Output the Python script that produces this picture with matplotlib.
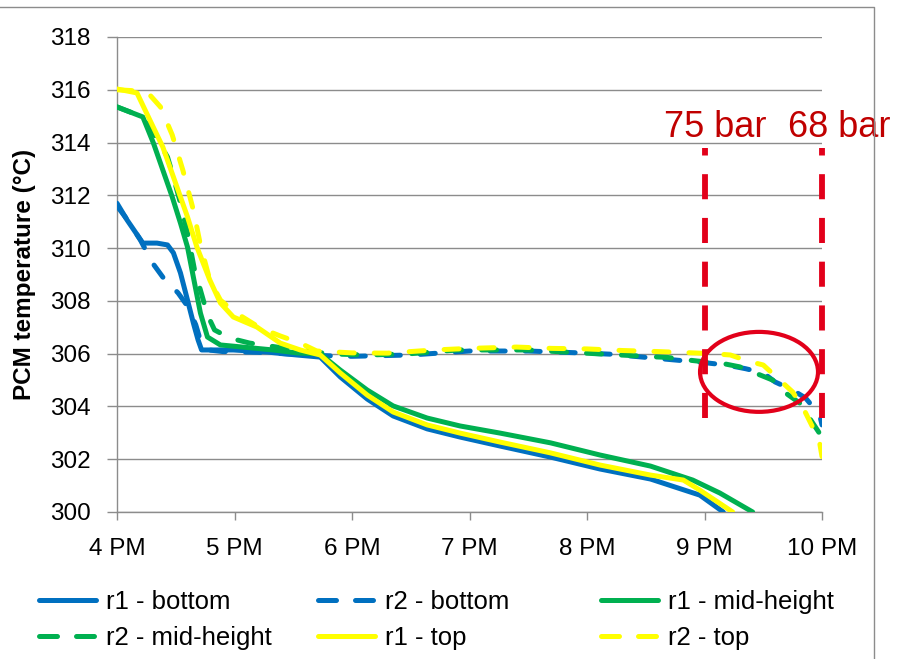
import matplotlib.pyplot as plt
import matplotlib.lines as mlines
from matplotlib.patches import Ellipse

plt.rcParams['font.family'] = ['Liberation Sans', 'DejaVu Sans']

# time in hours (16 = 4 PM), PCM temperature in degC
r1_bottom_h = [16.0, 16.085, 16.22, 16.34, 16.43, 16.48, 16.54, 16.6, 16.65, 16.69, 16.72, 16.79,
               16.99, 17.28, 17.53, 17.73, 17.9, 18.13, 18.35, 18.64, 18.92, 19.26, 19.69, 20.11,
               20.54, 20.96, 21.16]
r1_bottom_T = [311.7, 311.07, 310.19, 310.19, 310.12, 309.82, 309.06, 308.03, 307.16, 306.52, 306.14,
               306.14, 306.14, 306.06, 305.95, 305.87, 305.12, 304.28, 303.64, 303.15, 302.84, 302.5,
               302.08, 301.63, 301.25, 300.64, 300.0]

r2_bottom_h = [16.0, 16.1, 16.2, 16.3, 16.39, 16.52, 16.6, 16.67, 16.71, 16.76, 16.9, 17.2, 17.5,
               17.8, 18.0, 18.5, 19.0, 19.5, 20.0, 20.2, 20.5, 20.8, 21.0, 21.2, 21.35, 21.5, 21.6,
               21.75, 21.86, 21.98, 22.0]
r2_bottom_T = [311.6, 311.0, 310.3, 309.45, 308.9, 308.3, 307.8, 307.1, 306.5, 306.15, 306.08, 306.05,
               305.98, 305.92, 305.9, 305.95, 306.1, 306.1, 306.02, 305.98, 305.86, 305.74, 305.66,
               305.56, 305.43, 305.27, 304.93, 304.62, 304.32, 303.68, 303.3]

r1_mid_h = [16.0, 16.22, 16.31, 16.39, 16.47, 16.54, 16.6, 16.65, 16.71, 16.77, 16.88, 17.07, 17.33,
            17.53, 17.73, 17.9, 18.13, 18.35, 18.64, 18.92, 19.26, 19.69, 20.11, 20.54, 20.9, 21.13,
            21.41]
r1_mid_T = [315.35, 314.97, 313.98, 312.96, 311.94, 310.95, 310.04, 308.9, 307.54, 306.63, 306.33,
            306.25, 306.14, 306.03, 305.99, 305.38, 304.62, 304.02, 303.56, 303.26, 302.99, 302.62,
            302.16, 301.74, 301.21, 300.72, 300.0]

r2_mid_h = [16.0, 16.22, 16.32, 16.43, 16.47, 16.54, 16.6, 16.66, 16.71, 16.77, 16.83, 16.96, 17.13,
            17.36, 17.56, 17.81, 18.15, 18.5, 18.9, 19.5, 19.9, 20.2, 20.37, 20.52, 20.68, 20.82,
            20.94, 21.13, 21.3, 21.43, 21.58, 21.69, 21.81, 21.92, 22.0]
r2_mid_T = [315.35, 314.97, 314.29, 313.45, 312.85, 311.71, 310.57, 309.17, 308.41, 307.47, 306.9,
            306.59, 306.4, 306.25, 306.14, 305.99, 305.95, 306.0, 306.14, 306.14, 306.04, 305.97,
            305.93, 305.89, 305.86, 305.78, 305.72, 305.65, 305.5, 305.27, 305.0, 304.51, 304.13,
            303.38, 302.84]

r1_top_h = [16.0, 16.17, 16.28, 16.39, 16.51, 16.6, 16.68, 16.79, 16.88, 16.99, 17.19, 17.39, 17.56,
            17.73, 17.9, 18.13, 18.35, 18.64, 18.92, 19.26, 19.69, 20.11, 20.54, 20.82, 20.96, 21.24]
r1_top_T = [316.03, 315.88, 314.85, 313.83, 312.32, 311.18, 310.04, 308.79, 307.92, 307.39, 307.01,
            306.4, 306.14, 305.95, 305.27, 304.43, 303.79, 303.3, 302.99, 302.65, 302.24, 301.78,
            301.4, 301.21, 300.83, 300.0]

r2_top_h = [16.0, 16.2, 16.28, 16.37, 16.47, 16.56, 16.65, 16.71, 16.79, 16.88, 17.0, 17.22, 17.39,
            17.56, 17.7, 18.0, 18.3, 18.7, 19.0, 19.4, 19.7, 20.0, 20.3, 20.6, 20.9, 21.07, 21.22,
            21.37, 21.5, 21.64, 21.75, 21.84, 21.92, 21.98, 22.0]
r2_top_T = [316.0, 315.95, 315.8, 315.35, 314.29, 312.96, 311.44, 310.12, 308.79, 308.03, 307.58,
            306.97, 306.67, 306.4, 306.1, 306.03, 306.02, 306.14, 306.2, 306.25, 306.2, 306.18,
            306.12, 306.08, 306.03, 306.0, 305.95, 305.72, 305.57, 305.0, 304.55, 303.94, 303.22,
            302.62, 302.1]

# pressure change markers
marker_h = [21.0, 22.0]
marker_labels = ['75 bar', '68 bar']
marker_span = (303.55, 313.8)
label_h = [21.09, 22.15]
label_T = 314.2

hour_ticks = [16, 17, 18, 19, 20, 21, 22]
hour_labels = ['4 PM', '5 PM', '6 PM', '7 PM', '8 PM', '9 PM', '10 PM']
temp_ticks = [300, 302, 304, 306, 308, 310, 312, 314, 316, 318]

BLUE, GREEN, YELLOW = '#0070C0', '#00B050', '#FFFF00'
RED, DARKRED = '#E2001A', '#C00000'
GRID = '#8C8C8C'

fig = plt.figure(figsize=(8.97, 6.59), dpi=100)
ax = fig.add_axes([117 / 897, 1 - 512 / 659, 705 / 897, 475 / 659])

lw = 3.6
series = [
    (r1_bottom_h, r1_bottom_T, BLUE, '-', 'r1 - bottom'),
    (r2_bottom_h, r2_bottom_T, BLUE, '--', 'r2 - bottom'),
    (r1_mid_h, r1_mid_T, GREEN, '-', 'r1 - mid-height'),
    (r2_mid_h, r2_mid_T, GREEN, '--', 'r2 - mid-height'),
    (r1_top_h, r1_top_T, YELLOW, '-', 'r1 - top'),
    (r2_top_h, r2_top_T, YELLOW, '--', 'r2 - top'),
]
handles = []
for h, T, c, ls, lab in series:
    if ls == '--':
        ax.plot(h, T, color=c, lw=lw, dashes=(3, 4), dash_capstyle='round')
        proxy = mlines.Line2D([], [], color=c, lw=lw, dashes=(3.6, 3.8),
                              dash_capstyle='round', label=lab)
    else:
        ax.plot(h, T, color=c, lw=lw, solid_capstyle='round')
        proxy = mlines.Line2D([], [], color=c, lw=lw, solid_capstyle='round', label=lab)
    handles.append(proxy)

for mh in marker_h:
    ax.plot([mh, mh], marker_span, color=RED, lw=4.2, dashes=(4.3, 3.2),
            dash_capstyle='butt', clip_on=False, zorder=5)
for lh, lab in zip(label_h, marker_labels):
    ax.text(lh, label_T, lab, color=DARKRED, fontsize=26, ha='center', va='baseline',
            clip_on=False, zorder=6)

ax.add_patch(Ellipse((21.464, 305.31), 1.004, 3.03, fill=False, ec=RED, lw=3.0, zorder=5))

ax.set_xlim(16, 22)
ax.set_ylim(300, 318)
ax.set_xticks(hour_ticks)
ax.set_xticklabels(hour_labels)
ax.set_yticks(temp_ticks)
ax.yaxis.grid(True, color=GRID, lw=1.0)
ax.set_axisbelow(True)
for s in ['top', 'right']:
    ax.spines[s].set_visible(False)
for s in ['left', 'bottom']:
    ax.spines[s].set_color(GRID)
    ax.spines[s].set_linewidth(1.0)
    ax.spines[s].set_zorder(0.5)
ax.tick_params(axis='x', length=5.5, width=1.0, color=GRID, labelsize=17.5, pad=13)
ax.tick_params(axis='y', length=7, width=1.0, color=GRID, labelsize=17.5, pad=12)

fig.text(24 / 897, 1 - 274 / 659, 'PCM temperature (°C)', rotation=90, ha='center',
         va='center', fontsize=17.5, fontweight='bold')

# legend laid out as three columns
col_x = [39 / 897, 318 / 897, 601 / 897]
for i, x0 in enumerate(col_x):
    hs = [handles[i], handles[i + 3]]
    fig.legend(hs, [hh.get_label() for hh in hs], loc='upper left',
               bbox_to_anchor=(x0, 1 - 590 / 659), frameon=False, borderpad=0,
               borderaxespad=0, handlelength=2.2, handletextpad=0.4, labelspacing=0.45,
               fontsize=18.5)

# outer chart frame
fig.add_artist(mlines.Line2D([0, 874 / 897, 874 / 897], [1 - 7 / 659, 1 - 7 / 659, 0],
                             color=GRID, lw=1.0, transform=fig.transFigure))

fig.savefig('out.png', dpi=100)
